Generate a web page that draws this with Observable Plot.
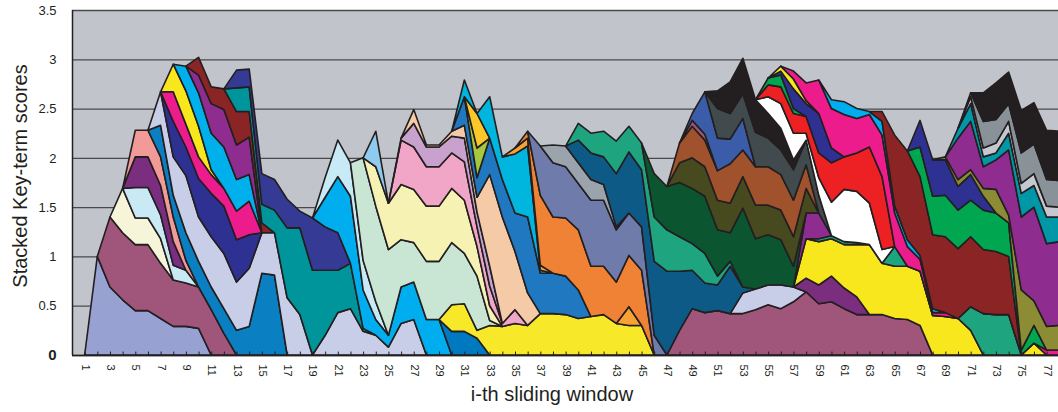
<!DOCTYPE html>
<html>
<head>
<meta charset="utf-8">
<script src="https://cdn.jsdelivr.net/npm/d3@7"></script>
<script src="https://cdn.jsdelivr.net/npm/@observablehq/plot@0.6"></script>
<style>
  html, body { margin: 0; padding: 0; background: #ffffff; }
  #chart { width: 1058px; height: 412px; }
</style>
</head>
<body>
<div id="chart"></div>
<script>
// ---------- categories ----------
const windows = d3.range(1, 78);            // i-th sliding window (visible part)
const xTickLabels = d3.range(1, 78, 2);      // labelled windows
const yTicks = [0, 0.5, 1, 1.5, 2, 2.5, 3, 3.5];

// ---------- key-term scores (each list starts at the window given in the layer table) ----------
const sA  = [0, 1.00, .69, .56, .45, .45, .37, .29, .29, .27, 0];
const sB  = [0, .71, .68, .67, .67, .56, .47, .44, .42, .46, .22, 0];
const sC  = [0, .45, .27, .27, .25, 0];
const sD  = [0, .31, .31, .24, .15, .13, 0];
const sE  = [0, .31, .31, .30, .24, 0];
const sF  = [0, .27, .27, .29, .25, .10, 0];
const sG  = [0, .32, .22, .28, .26, .23, .25, .25, .29, .83, .81, 0];
const sH  = [0, .34, .39, .58, .45, .51, .56, .49, .59, .41, .43, .58, .41, 0, .20, .43, .47, .24, .20, .08, .32, .36, 0];
const sI  = [0, .36, .29, .39, .44, .48, .43, .34, 0];
const sJ  = [0, .30, .23, .22, .19, .18, .29, .34, 0];
const sK  = [0, .28, .34, .31, .05, 0];
const sL  = [0, .25, .34, .37, .42, .32, .27, 0];
const sM  = [0, .18, .30, .38, .35, .38, 0];
const sN  = [0, .18, .17, .21, .34, .26, .10, 0];
const sO  = [0, .24, .25, .19, .23, .71, .88, .86, .66, .43, .46, .03, 0];
const sP  = [0, .18, .18, .31, .31, .29, .17, .53, .44, .38, 0];
const sQ  = [0, .30, .57, .68, .39, .16, .12, .37, .38, .36, .36, 0];
const sS  = [0, .20, .37, .34, .30, .18, 0];
const sU  = [0, .24, .24, .17, 0];
const sT  = [0, .27, .28, .08, .30, .29, .32, .30, .42, .42, .41, .37, .39, .41, .32, .30, .30, 0];
const sAM = [0, .19, 0];
const sR  = [0, 1.04, .97, .87, .48, .40, .59, .59, .63, .51, .55, .05, 0];
const sV  = [0, .40, .47, .56, .54, .56, .56, .55, .54, .30, .15, 0];
const sW  = [0, .36, 0];
const sX  = [0, .45, .43, .40, .40, .36, .39, .20, .20, .03, .14, 0];
const sY  = [0, .02, .24, .20, .20, .17, .24, .15, .20, 0];
const sZ  = [0, .14, .02, .02, .05, .13, .15, .93, 1.08, .59, .33, 0];
const sAA = [0, .29, .20, .37, .38, .39, .77, .41, .41, .39, .29, 0];
const sAC = [0, .30, 0];
const sAD = [0, .35, 0];
const sAB = [0, .17, 0, .42, .23, .60, .72, .03, 0];
const sAF = [0, .06, .08, .05, 0];
const sAG = [0, .07, .71, .57, .59, .61, .51, .49, .42, .52, .56, 0];
const sAH = [0, .50, .55, .52, .47, .67, .67, .53, .43, .44, .20, 0];
const sAI = [0, .18, .21, .21, .21, .16, .03, 0];
const sR1 = [0, .25, .47, .43, .45, .42, .42, .46, .51, .47, .54, .64, .52, .54, .47, .41, .41, .41, .37, .36, .30, 0];
const sR2 = [0, .21, .21, .20, .24, .15, 0];
const sBC = [0, .14, .19, .26, .21, .18, 0];
const sBE = [0, .40, .44, .38, .44, .53, .71, .52, .53, .54, .55, .40, .39, .37, .25, 0, 0, 0, 0, .12, 0];
const sR6 = [0, .03, .03, .03, .02, 0, 0, .20, 0, 0, 0, 0, 0, .24, .42, .41, .41, 0];
const sBD = [0, .26, .26, 0];
const sAK = [0, .23, .27, .28, .54, .62, .58, .75, .85, .60, .39, .30, .26, .48, .06, 0];
const sAJ = [0, .17, .20, .26, .33, .26, .27, .45, .42, .35, .27, .30, .09, .05, 0];
const sAL = [0, .44, .44, .55, .56, .58, .47, .29, .80, .51, .51, .46, .21, 0];
const sAN = [0, .20, .31, .30, .30, .30, .32, .34, .30, .30, .30, .25, 0];
const sAO = [0, .20, .32, .27, .30, .40, .27, .39, .39, .36, .37, .24, 0];
const sAP = [0, .06, .06, 0];
const sAQ = [0, .07, .43, .33, .25, .32, 0];
const sAR = [0, .30, .26, .25, .35, .29, .25, .31, .25, .18, 0];
const sAS = [0, .18, .32, .36, .33, .25, .22, .10, 0];
const sBK = [0, .17, .25, .27, .07, .18, .34, .53, .52, .42, .14, 0];
const sBL = [0, .12, .17, .20, .17, .25, .40, .33, .39, .57, .74, 0];
const sAT = [0, .07, .12, .05, 0];
const sAV = [0, .04, .20, .13, .40, .15, 0];
const sAU = [0, .05, .10, .03, 0];
const sBM = [0, .08, .18, .34, .40, .43, .35, .33, .42, .34, .20, .12, .03, .04, 0, 0, 0, 0, 0, 0, 0, .05, .05];
const sBN = [0, .09, .13, .10, .03, .14, .07, .07, .04, .04, 0];
const sBJ = [0, .10, .72, .90, .80, .75, .77, .71, .71, .65, .64, .59, 0];
const sBP = [0, .30, .39, .42, .39, .37, .40, .39, .34, .05, .18, 0];
const sBQ = [0, .27, .37, .36, .24, .26, .14, 0];
const sBO = [0, .03, .07, .05, .08, .24, .08, .61, .25, .24, .25];
const sBR = [0, .42, .49, .22, .30, .66, .74, .95, .84, .85];
const sBS = [0, .10, .18, .10, .07, .17, .24, .22, .27, .25];
const sBT = [0, .07, .09, .10, .12, .10, .12, .11, .10];
const sBU = [0, .04, .27, .24, .18, .31, .30, .27, .27];
const sBV = [0, .29, .37, .32, .43, .42, .50, .50];

// ---------- layer table, bottom to top: [scores, first window, colour] ----------
const layers = [
  [sA, 1, "#98a2d2"], [sB, 2, "#a0567a"], [sC, 3, "#f6f4d9"], [sD, 4, "#c9e9f5"],
  [sE, 4, "#7b2d7f"], [sF, 4, "#f19a97"], [sG, 6, "#0a7fc1"], [sH, 6, "#c8cde8"],
  [sI, 7, "#2e3192"], [sJ, 7, "#ec1c8c"], [sK, 7, "#f8e71c"], [sL, 8, "#00b0ec"],
  [sM, 9, "#8e2d8f"], [sN, 9, "#8b2525"], [sO, 12, "#00959b"], [sP, 12, "#353a94"],
  [sQ, 19, "#00aeef"], [sS, 19, "#c8eaf6"], [sU, 29, "#0079c1"], [sT, 29, "#f8e82a"],
  [sAM, 43, "#f7a233"], [sR, 22, "#c9e6d5"], [sV, 23, "#f6f2b3"], [sW, 23, "#8fcbef"],
  [sX, 25, "#f1a6c8"], [sY, 25, "#c8a1cc"], [sZ, 26, "#f5cba7"], [sAA, 30, "#1f78c0"],
  [sAC, 31, "#a6c83c"], [sAD, 31, "#fcc72a"], [sAB, 30, "#00b5de"], [sAF, 34, "#f7a233"],
  [sAG, 35, "#f08236"], [sAH, 36, "#6e7bab"], [sAI, 37, "#9ba3ad"],
  [sR1, 47, "#a0567a"], [sR2, 52, "#c8cde8"], [sBC, 57, "#7b2d7e"], [sBE, 57, "#f8e71c"],
  [sR6, 58, "#1fa480"], [sBD, 57, "#8e2d8f"],
  [sAK, 39, "#0e5a86"], [sAJ, 39, "#1fa480"], [sAL, 45, "#0b5530"],
  [sAN, 47, "#474a1f"], [sAO, 47, "#a0522d"], [sAP, 48, "#a0567a"], [sAQ, 48, "#3b5ca9"],
  [sAR, 50, "#414a4d"], [sAS, 50, "#231f20"], [sBK, 54, "#ffffff"], [sBL, 54, "#ed2024"],
  [sAT, 54, "#00a650"], [sAV, 55, "#2e3192"], [sAU, 55, "#f8e71c"], [sBM, 56, "#ec1c8c"],
  [sBN, 59, "#00aeef"], [sBJ, 63, "#8b2525"], [sBP, 66, "#00a650"], [sBQ, 66, "#2e3192"],
  [sBO, 68, "#8c8c35"], [sBR, 69, "#8e2d8f"], [sBS, 69, "#0097a6"], [sBT, 70, "#c5c8cf"],
  [sBU, 70, "#8a9299"], [sBV, 71, "#231f20"]
];

const rows = layers.flatMap(([vals, start, color], k) =>
  vals.map((v, j) => ({layer: k, window: start + j, score: v, color})));

const font = "'Liberation Sans', Arial, sans-serif";

const chart = Plot.plot({
  width: 1058,
  height: 412,
  marginLeft: 72,
  marginRight: 0,
  marginTop: 10,
  marginBottom: 57,
  style: {fontFamily: font, color: "#231f20", background: "#ffffff", overflow: "visible"},
  x: {domain: [0, 77.9]},
  y: {domain: [0, 3.5]},
  color: {type: "identity"},
  marks: [
    Plot.frame({fill: "#c1c4cb", stroke: null}),
    Plot.gridY(yTicks, {stroke: "#4a4a4a", strokeOpacity: 1, strokeWidth: 1.3}),
    Plot.areaY(rows, Plot.stackY({
      x: "window", y: "score", z: "layer", fill: "color",
      stroke: "#231f20", strokeWidth: 1.6, strokeLinejoin: "round",
      curve: "linear", clip: true
    })),
    Plot.ruleY([0], {stroke: "#231f20", strokeWidth: 1.5}),
    Plot.ruleX([0], {stroke: "#231f20", strokeWidth: 1.5}),
    Plot.ruleX(windows, {x: d => d, y1: 0, y2: 0.035, stroke: "#231f20", strokeWidth: 1}),
    Plot.axisY(yTicks, {tickSize: 0, tickPadding: 16, fontSize: 13, label: null, tickFormat: d => String(d)}),
    Plot.axisX(xTickLabels, {tickSize: 0, tickPadding: 9, tickRotate: 90, fontSize: 11, label: null})
  ]
});

document.getElementById("chart").appendChild(chart);

const svg = d3.select(chart);
// bold zero on the value axis
svg.selectAll("g[aria-label='y-axis tick label'] text")
  .filter(function() { return this.textContent === "0"; })
  .attr("font-weight", "bold").attr("font-size", 15);

// axis titles
svg.append("text")
  .attr("transform", "translate(27,176) rotate(-90)")
  .attr("text-anchor", "middle")
  .attr("font-family", font).attr("font-size", 20).attr("fill", "#231f20")
  .text("Stacked Key-term scores");
svg.append("text")
  .attr("x", 552).attr("y", 401)
  .attr("text-anchor", "middle")
  .attr("font-family", font).attr("font-size", 20).attr("fill", "#231f20")
  .text("i-th sliding window");
</script>
</body>
</html>
